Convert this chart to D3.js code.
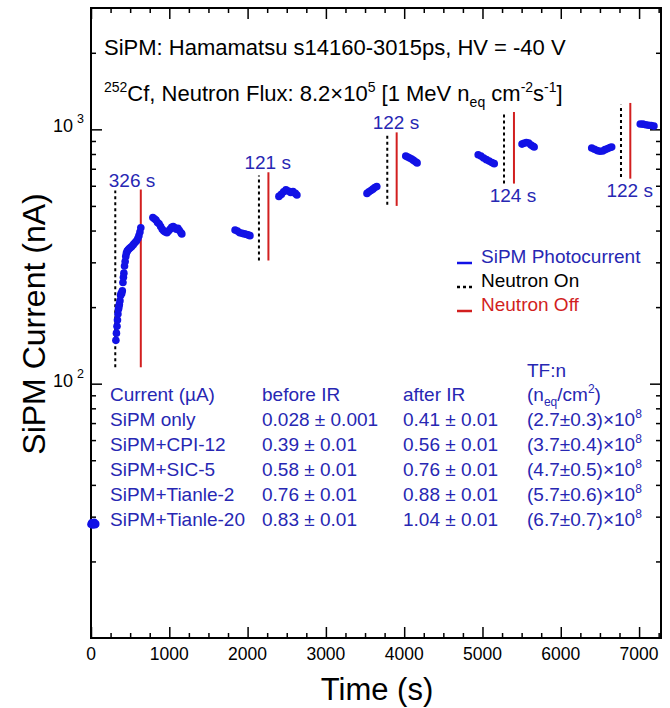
<!DOCTYPE html>
<html lang="en">
<head>
<meta charset="UTF-8">
<title>SiPM photocurrent</title>
<script src="https://d3js.org/d3.v7.min.js"></script>
<style>
  body { margin: 0; background: #fff; }
  text { font-family: "Liberation Sans", Arial, sans-serif; }
</style>
</head>
<body>
<script>
// photocurrent samples: [time (s), current (nA)]
const photocurrent = [
  [0, 28], [10, 28.4], [20, 27.8], [30, 28.2], [40, 28.5], [50, 27.9], [60, 28.1],
  [318, 148], [325, 158], [332, 168], [338, 178], [344, 188], [350, 196], [356, 200],
  [362, 205], [370, 212], [378, 222], [384, 226], [392, 226], [400, 232], [408, 250],
  [414, 262], [420, 272], [428, 290], [436, 302], [444, 316], [452, 326], [462, 332],
  [475, 336], [490, 340], [505, 343], [520, 346], [540, 352], [560, 358], [580, 364],
  [598, 372], [612, 382], [625, 395], [636, 410],
  [790, 450], [810, 445], [830, 440], [850, 430], [870, 425], [890, 415], [910, 405],
  [930, 398], [950, 395], [970, 392], [990, 398], [1010, 405], [1030, 412], [1050, 415],
  [1070, 410], [1090, 405], [1110, 408], [1130, 400], [1150, 392], [1160, 388],
  [1840, 402], [1870, 398], [1900, 392], [1930, 390], [1960, 388], [1990, 386],
  [2010, 384], [2030, 382],
  [2400, 545], [2430, 555], [2460, 568], [2490, 578], [2520, 572], [2550, 565],
  [2580, 570], [2610, 560], [2630, 552],
  [3525, 560], [3550, 568], [3575, 575], [3600, 582], [3625, 590], [3650, 596],
  [4020, 785], [4045, 778], [4070, 772], [4095, 765], [4120, 755], [4145, 745], [4165, 738],
  [4945, 795], [4980, 785], [5015, 772], [5050, 760], [5085, 750], [5120, 740], [5150, 733],
  [5505, 875], [5530, 882], [5560, 888], [5590, 884], [5620, 868], [5645, 858], [5660, 852],
  [6395, 845], [6430, 835], [6465, 825], [6500, 820], [6535, 822], [6565, 832],
  [6600, 840], [6630, 848], [6650, 852],
  [7015, 1050], [7050, 1048], [7085, 1042], [7120, 1038], [7155, 1035], [7190, 1030]
];

// neutron on / off marker lines
const neutronOn = [310, 2145, 3784, 5275, 6769];
const neutronOff = [636, 2266, 3904, 5402, 6888];
const onSpan = [[116, 575], [305, 659], [505, 960], [612, 1160], [650, 1250]];
const offSpan = [[116, 580], [305, 678], [500, 973], [612, 1170], [640, 1270]];
const durations = ["326 s", "121 s", "122 s", "124 s", "122 s"];
const labelBelow = [false, false, false, true, true];

// table
const tableHeader = ["Current (\u00b5A)", "before IR", "after IR"];
const deviceNames = ["SiPM only", "SiPM+CPI-12", "SiPM+SIC-5", "SiPM+Tianle-2", "SiPM+Tianle-20"];
const beforeIR = ["0.028 \u00b1 0.001", "0.39 \u00b1 0.01", "0.58 \u00b1 0.01", "0.76 \u00b1 0.01", "0.83 \u00b1 0.01"];
const afterIR = ["0.41 \u00b1 0.01", "0.56 \u00b1 0.01", "0.76 \u00b1 0.01", "0.88 \u00b1 0.01", "1.04 \u00b1 0.01"];
const fluence = ["(2.7\u00b10.3)\u00d710", "(3.7\u00b10.4)\u00d710", "(4.7\u00b10.5)\u00d710", "(5.7\u00b10.6)\u00d710", "(6.7\u00b10.7)\u00d710"];

const xMajor = [0, 1000, 2000, 3000, 4000, 5000, 6000, 7000];
const xMinor = d3.range(250, 7280, 250).filter(v => v % 1000 !== 0);
const yMajor = [100, 1000];
const yMinor = [20, 30, 40, 50, 60, 70, 80, 90, 200, 300, 400, 500, 600, 700, 800, 900, 2000];

const width = 670, height = 708;
const blue = "#1212e6", textBlue = "#2727b3", red = "#d21f1f";

const svg = d3.select("body").append("svg")
  .attr("width", width).attr("height", height);

const x = d3.scaleLinear().domain([0, 7280]).range([91, 661]);
const y = d3.scaleLog().domain([10, 3000]).range([638, 8]);

// ticks (inward on all four sides)
function ticks(axis, vals, len, tr) {
  svg.append("g").attr("transform", tr)
    .call(axis.tickValues(vals).tickSize(-len).tickFormat(""))
    .call(g => g.select(".domain").remove())
    .selectAll("line").attr("stroke", "#000").attr("stroke-width", 1.5);
}
ticks(d3.axisBottom(x), xMajor, 11, "translate(0,638)");
ticks(d3.axisBottom(x), xMinor, 5, "translate(0,638)");
ticks(d3.axisTop(x), xMajor, 11, "translate(0,8)");
ticks(d3.axisTop(x), xMinor, 5, "translate(0,8)");
ticks(d3.axisLeft(y), yMajor, 11, "translate(91,0)");
ticks(d3.axisLeft(y), yMinor, 5, "translate(91,0)");
ticks(d3.axisRight(y), yMajor, 11, "translate(661,0)");
ticks(d3.axisRight(y), yMinor, 5, "translate(661,0)");

svg.append("rect")
  .attr("x", 91).attr("y", 8).attr("width", 570).attr("height", 630)
  .attr("fill", "none").attr("stroke", "#000").attr("stroke-width", 2);

// tick labels
svg.selectAll("text.xt").data(xMajor).enter().append("text")
  .attr("class", "xt")
  .attr("x", d => x(d)).attr("y", 660)
  .attr("text-anchor", "middle").attr("font-size", 17.5)
  .text(d => d);

yMajor.forEach(v => {
  svg.append("text")
    .attr("x", 73).attr("y", y(v) + 3)
    .attr("text-anchor", "end").attr("font-size", 18)
    .text("10");
  svg.append("text").attr("x", 77).attr("y", y(v) - 6)
    .attr("font-size", 12.5).text(Math.round(Math.log10(v)));
});

// axis titles
svg.append("text")
  .attr("x", 377).attr("y", 700)
  .attr("text-anchor", "middle").attr("font-size", 31)
  .text("Time (s)");
svg.append("text")
  .attr("transform", "translate(45,324) rotate(-90)")
  .attr("text-anchor", "middle").attr("font-size", 32)
  .text("SiPM Current (nA)");

// header text
svg.append("text").attr("x", 104).attr("y", 55).attr("font-size", 22)
  .text("SiPM: Hamamatsu s14160-3015ps, HV = -40 V");
const l2 = svg.append("text").attr("x", 104).attr("y", 101).attr("font-size", 22);
l2.append("tspan").attr("font-size", 14).attr("dy", -9).text("252");
l2.append("tspan").attr("dy", 9).text("Cf, Neutron Flux: 8.2\u00d710");
l2.append("tspan").attr("font-size", 14).attr("dy", -9).text("5");
l2.append("tspan").attr("dy", 9).text(" [1 MeV n");
l2.append("tspan").attr("font-size", 14).attr("dy", 6).text("eq");
l2.append("tspan").attr("dy", -6).text(" cm");
l2.append("tspan").attr("font-size", 14).attr("dy", -9).text("-2");
l2.append("tspan").attr("dy", 9).text("s");
l2.append("tspan").attr("font-size", 14).attr("dy", -9).text("-1");
l2.append("tspan").attr("dy", 9).text("]");

// neutron on/off lines
svg.selectAll("line.on").data(neutronOn).enter().append("line")
  .attr("class", "on")
  .attr("x1", d => x(d)).attr("x2", d => x(d))
  .attr("y1", (d, i) => y(onSpan[i][0])).attr("y2", (d, i) => y(onSpan[i][1]))
  .attr("stroke", "#000").attr("stroke-width", 2).attr("stroke-dasharray", "3,3");
svg.selectAll("line.off").data(neutronOff).enter().append("line")
  .attr("class", "off")
  .attr("x1", d => x(d)).attr("x2", d => x(d))
  .attr("y1", (d, i) => y(offSpan[i][0])).attr("y2", (d, i) => y(offSpan[i][1]))
  .attr("stroke", red).attr("stroke-width", 2);

svg.selectAll("text.dur").data(durations).enter().append("text")
  .attr("class", "dur")
  .attr("x", (d, i) => (x(neutronOn[i]) + x(neutronOff[i])) / 2 + 4)
  .attr("y", (d, i) => labelBelow[i]
    ? y(Math.min(onSpan[i][0], offSpan[i][0])) + 18
    : y(Math.max(onSpan[i][1], offSpan[i][1])) - 3)
  .attr("text-anchor", "middle").attr("font-size", 19).attr("fill", textBlue)
  .text(d => d);

// data points
svg.selectAll("circle").data(photocurrent).enter().append("circle")
  .attr("cx", d => x(d[0])).attr("cy", d => y(d[1]))
  .attr("r", 3.8).attr("fill", blue);

// legend
const legend = [
  {label: "SiPM Photocurrent", color: blue, text: textBlue, dash: null},
  {label: "Neutron On", color: "#000", text: "#000", dash: "3,3"},
  {label: "Neutron Off", color: red, text: red, dash: null}
];
const lg = svg.selectAll("g.lg").data(legend).enter().append("g")
  .attr("transform", (d, i) => `translate(457,${263 + i * 24})`);
lg.append("line").attr("x1", 0).attr("x2", 15).attr("y1", 0).attr("y2", 0)
  .attr("stroke", d => d.color).attr("stroke-width", 2.5)
  .attr("stroke-dasharray", d => d.dash);
lg.append("text").attr("x", 24).attr("y", 0).attr("font-size", 19)
  .attr("fill", d => d.text).text(d => d.label);

// table
const cols = [110, 262, 403, 527];
const rowY = i => 401 + i * 25;
const tb = svg.append("g").attr("fill", textBlue).attr("font-size", 19);
tb.append("text").attr("x", cols[3]).attr("y", 377).text("TF:n");
tableHeader.forEach((h, j) => tb.append("text").attr("x", cols[j]).attr("y", rowY(0)).text(h));
const hd = tb.append("text").attr("x", cols[3]).attr("y", rowY(0));
hd.append("tspan").text("(n");
hd.append("tspan").attr("font-size", 12).attr("dy", 5).text("eq");
hd.append("tspan").attr("dy", -5).text("/cm");
hd.append("tspan").attr("font-size", 12).attr("dy", -8).text("2");
hd.append("tspan").attr("dy", 8).text(")");
deviceNames.forEach((n, i) => {
  const yy = rowY(i + 1);
  tb.append("text").attr("x", cols[0]).attr("y", yy).text(n);
  tb.append("text").attr("x", cols[1]).attr("y", yy).text(beforeIR[i]);
  tb.append("text").attr("x", cols[2]).attr("y", yy).text(afterIR[i]);
  const f = tb.append("text").attr("x", cols[3]).attr("y", yy);
  f.append("tspan").text(fluence[i]);
  f.append("tspan").attr("font-size", 12).attr("dy", -8).text("8");
});
</script>
</body>
</html>
